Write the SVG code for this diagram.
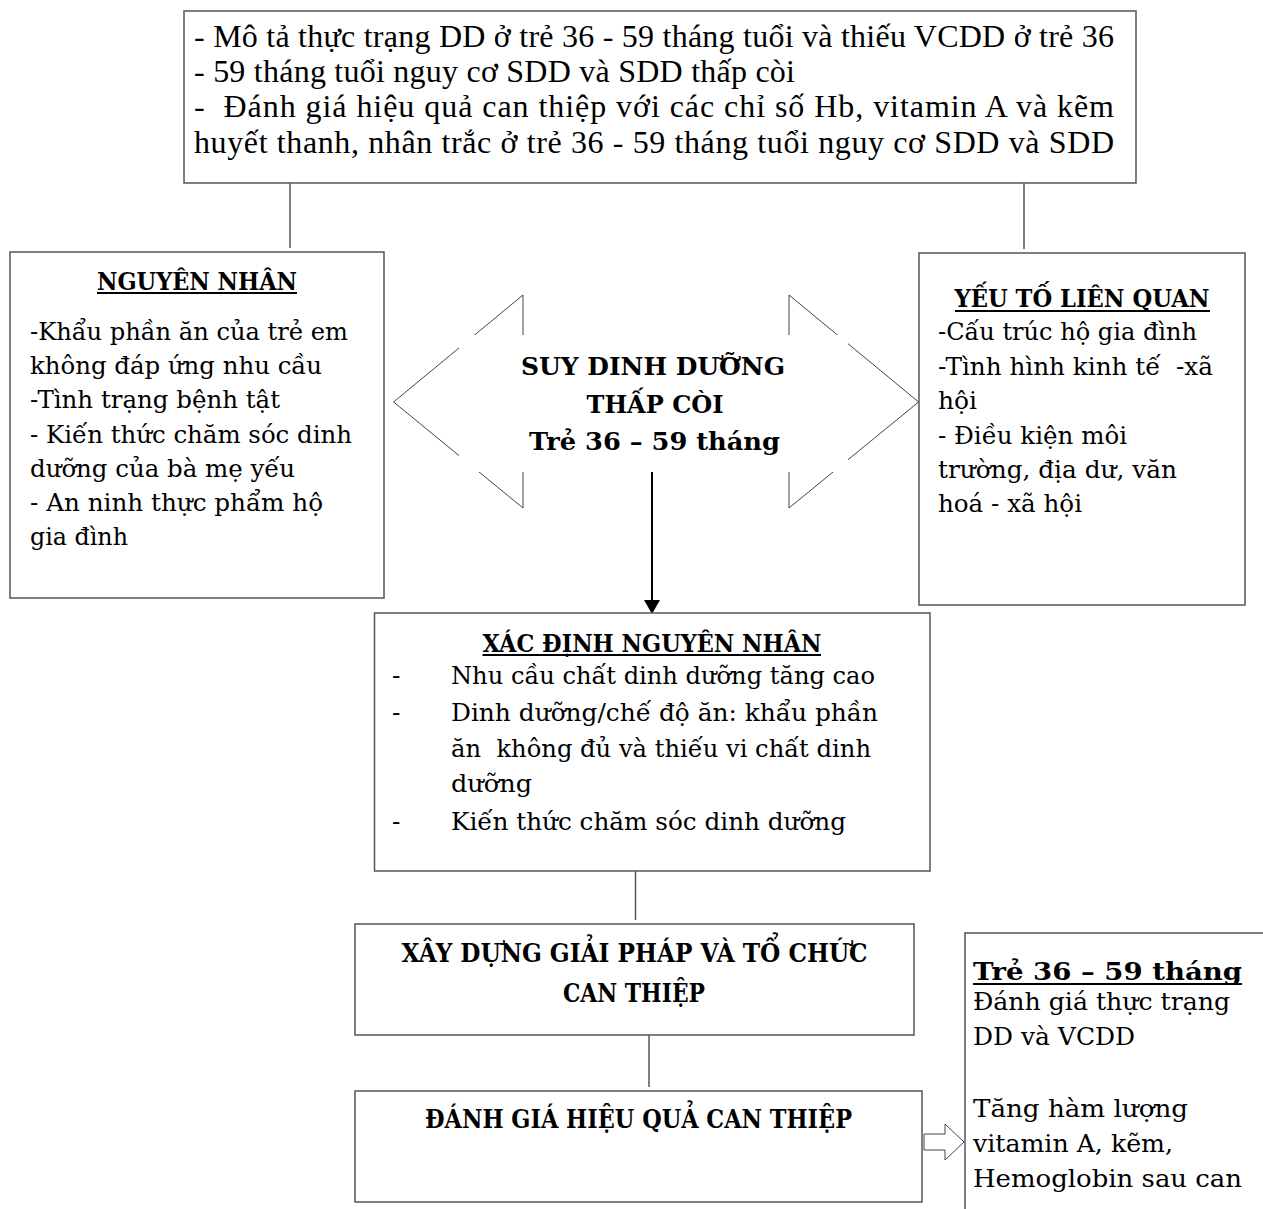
<svg xmlns="http://www.w3.org/2000/svg" width="1263" height="1209" viewBox="0 0 1263 1209">
<style>
.box{fill:#fff;stroke:#555;stroke-width:1.5}
.conn{stroke:#555;stroke-width:1.5;fill:none}
.tnr{font-family:"Liberation Serif","Times New Roman",serif;font-size:32px;fill:#000}
.cb{font-family:"DejaVu Serif","Liberation Serif",serif;font-size:24px;fill:#000}
.cb25{font-family:"DejaVu Serif","Liberation Serif",serif;font-size:25px;fill:#000}
.bold{font-family:"DejaVu Serif","Liberation Serif",serif;font-weight:bold;font-size:25px;fill:#000}
.big{font-size:26px}
.mid{text-anchor:middle}
.ul{stroke:#000;stroke-width:1.8}
</style>

<g id="connectors">
<line class="conn" x1="290" y1="183" x2="290" y2="248"/>
<line class="conn" x1="1024" y1="183" x2="1024" y2="249"/>
<line class="conn" x1="635.5" y1="871" x2="635.5" y2="920"/>
<line class="conn" x1="649" y1="1035" x2="649" y2="1087"/>
<line x1="652" y1="460" x2="652" y2="600" stroke="#000" stroke-width="2"/>
<path d="M644,600 L660,600 L652,614 Z" fill="#000"/>
<polygon points="924,1134 945,1134 945,1124 964,1142 945,1160 945,1150 924,1150" fill="#fff" stroke="#444" stroke-width="1"/>
</g>

<g id="node-top">
<rect class="box" x="184" y="11" width="952" height="172"/>
<text class="tnr" x="194" y="47" textLength="920" lengthAdjust="spacing">- Mô tả thực trạng DD ở trẻ 36 - 59 tháng tuổi và thiếu VCDD ở trẻ 36</text>
<text class="tnr" x="194" y="82" textLength="601" lengthAdjust="spacing">- 59 tháng tuổi nguy cơ SDD và SDD thấp còi</text>
<text class="tnr" x="194" y="117" textLength="920" lengthAdjust="spacing" xml:space="preserve">-  Đánh giá hiệu quả can thiệp với các chỉ số Hb, vitamin A và kẽm</text>
<text class="tnr" x="194" y="153" textLength="920" lengthAdjust="spacing">huyết thanh, nhân trắc ở trẻ 36 - 59 tháng tuổi nguy cơ SDD và SDD</text>
</g>

<g id="node-nguyen-nhan">
<rect class="box" x="10" y="252" width="374" height="346"/>
<text class="bold mid" x="197" y="290" textLength="200" lengthAdjust="spacingAndGlyphs">NGUYÊN NHÂN</text>
<line class="ul" x1="97" y1="293" x2="297" y2="293"/>
<text class="cb" x="30" y="340" textLength="318" lengthAdjust="spacingAndGlyphs">-Khẩu phần ăn của trẻ em</text>
<text class="cb" x="30" y="374" textLength="292" lengthAdjust="spacingAndGlyphs">không đáp ứng nhu cầu</text>
<text class="cb" x="30" y="408" textLength="250" lengthAdjust="spacingAndGlyphs">-Tình trạng bệnh tật</text>
<text class="cb" x="30" y="443" textLength="322" lengthAdjust="spacingAndGlyphs">- Kiến thức chăm sóc dinh</text>
<text class="cb" x="30" y="477" textLength="265" lengthAdjust="spacingAndGlyphs">dưỡng của bà mẹ yếu</text>
<text class="cb" x="30" y="511" textLength="293" lengthAdjust="spacingAndGlyphs">- An ninh thực phẩm hộ</text>
<text class="cb" x="30" y="545" textLength="98" lengthAdjust="spacingAndGlyphs">gia đình</text>
</g>

<g id="node-yeu-to">
<rect class="box" x="919" y="253" width="326" height="352"/>
<text class="bold mid" x="1082" y="307" textLength="255" lengthAdjust="spacingAndGlyphs">YẾU TỐ LIÊN QUAN</text>
<line class="ul" x1="955" y1="311" x2="1210" y2="311"/>
<text class="cb" x="938" y="340" textLength="259" lengthAdjust="spacingAndGlyphs">-Cấu trúc hộ gia đình</text>
<text class="cb" x="938" y="375" textLength="275" lengthAdjust="spacingAndGlyphs" xml:space="preserve">-Tình hình kinh tế  -xã</text>
<text class="cb" x="938" y="409" textLength="39" lengthAdjust="spacingAndGlyphs">hội</text>
<text class="cb" x="938" y="444" textLength="189" lengthAdjust="spacingAndGlyphs">- Điều kiện môi</text>
<text class="cb" x="938" y="478" textLength="239" lengthAdjust="spacingAndGlyphs">trường, địa dư, văn</text>
<text class="cb" x="938" y="512" textLength="144" lengthAdjust="spacingAndGlyphs">hoá - xã hội</text>
</g>

<g id="node-center">
<polygon points="393.6,402 523,295 523,345 789,345 789,295 918.6,402 789,508 789,460 523,460 523,508" fill="#fff" stroke="#444" stroke-width="1"/>
<rect x="459" y="335" width="389" height="137" fill="#fff"/>
<text class="bold mid" x="653" y="375" textLength="264" lengthAdjust="spacingAndGlyphs">SUY DINH DƯỠNG</text>
<text class="bold mid" x="655" y="413" textLength="137" lengthAdjust="spacingAndGlyphs">THẤP CÒI</text>
<text class="bold mid" x="654.5" y="450" textLength="251" lengthAdjust="spacingAndGlyphs">Trẻ 36 – 59 tháng</text>
</g>

<g id="node-xac-dinh">
<rect class="box" x="374.5" y="613" width="555.5" height="258"/>
<text class="bold mid" x="652" y="652" textLength="339" lengthAdjust="spacingAndGlyphs">XÁC ĐỊNH NGUYÊN NHÂN</text>
<line class="ul" x1="482.5" y1="655" x2="821" y2="655"/>
<text class="cb25" x="392" y="684">-</text>
<text class="cb25" x="451" y="684" textLength="424" lengthAdjust="spacingAndGlyphs">Nhu cầu chất dinh dưỡng tăng cao</text>
<text class="cb25" x="392" y="721">-</text>
<text class="cb25" x="451" y="721" textLength="427" lengthAdjust="spacingAndGlyphs">Dinh dưỡng/chế độ ăn: khẩu phần</text>
<text class="cb25" x="451" y="757" textLength="420" lengthAdjust="spacingAndGlyphs" xml:space="preserve">ăn  không đủ và thiếu vi chất dinh</text>
<text class="cb25" x="451" y="792" textLength="81" lengthAdjust="spacingAndGlyphs">dưỡng</text>
<text class="cb25" x="392" y="830">-</text>
<text class="cb25" x="451" y="830" textLength="395" lengthAdjust="spacingAndGlyphs">Kiến thức chăm sóc dinh dưỡng</text>
</g>

<g id="node-xay-dung">
<rect class="box" x="355" y="924" width="559" height="111"/>
<text class="bold big mid" x="634.6" y="962" textLength="466" lengthAdjust="spacingAndGlyphs">XÂY DỰNG GIẢI PHÁP VÀ TỔ CHỨC</text>
<text class="bold big mid" x="634" y="1002" textLength="142" lengthAdjust="spacingAndGlyphs">CAN THIỆP</text>
</g>

<g id="node-danh-gia">
<rect class="box" x="355" y="1091" width="567" height="111"/>
<text class="bold big mid" x="638.5" y="1128" textLength="427" lengthAdjust="spacingAndGlyphs">ĐÁNH GIÁ HIỆU QUẢ CAN THIỆP</text>
</g>

<g id="node-tre">
<path class="conn" d="M1263,933 H965 V1209"/>
<text class="bold" x="973" y="980" textLength="269" lengthAdjust="spacingAndGlyphs">Trẻ 36 – 59 tháng</text>
<line class="ul" x1="973" y1="984" x2="1242" y2="984"/>
<text class="cb" x="973" y="1010" textLength="257" lengthAdjust="spacingAndGlyphs">Đánh giá thực trạng</text>
<text class="cb" x="973" y="1045" textLength="162" lengthAdjust="spacingAndGlyphs">DD và VCDD</text>
<text class="cb" x="973" y="1117" textLength="215" lengthAdjust="spacingAndGlyphs">Tăng hàm lượng</text>
<text class="cb" x="973" y="1152" textLength="200" lengthAdjust="spacingAndGlyphs">vitamin A, kẽm,</text>
<text class="cb" x="973" y="1187" textLength="269" lengthAdjust="spacingAndGlyphs">Hemoglobin sau can</text>
</g>
</svg>
